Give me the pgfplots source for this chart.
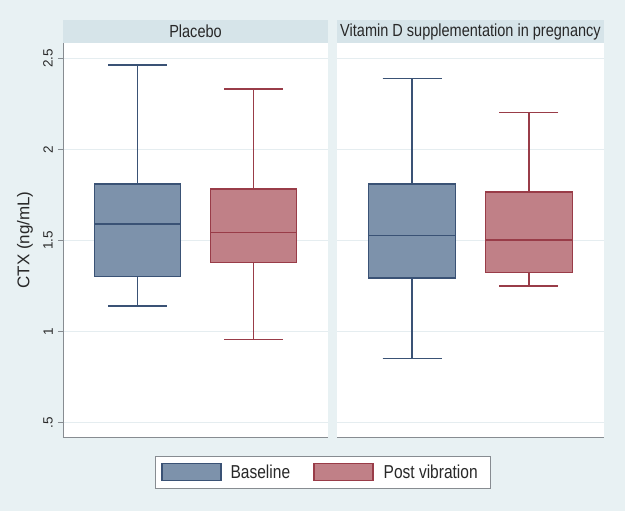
\documentclass[border=0pt]{standalone}
\usepackage{fontspec}
\setmainfont{Liberation Sans}
\newfontfamily\narrowfont[FakeStretch=0.83]{Liberation Sans}
\usepackage{pgfplots}
\pgfplotsset{compat=1.18}
\usepgfplotslibrary{statistics}
\definecolor{bgcol}{RGB}{232,241,243}
\definecolor{headcol}{RGB}{214,228,233}
\definecolor{gridcol}{RGB}{229,237,240}
\definecolor{axisgray}{RGB}{135,140,145}
\definecolor{basefill}{RGB}{125,146,171}
\definecolor{baseedge}{RGB}{58,82,117}
\definecolor{postfill}{RGB}{192,128,135}
\definecolor{postedge}{RGB}{153,60,72}
\definecolor{txt}{RGB}{40,40,40}
\pgfplotsset{
  panel/.style={
    anchor=south west, scale only axis, height=394pt, clip=false,
    xmin=0.357, xmax=2.643, ymin=0.4203, ymax=2.585,
    axis x line*=bottom, axis y line*=left,
    axis line style={draw=axisgray, line width=0.9pt},
    xtick=\empty,
    ytick={0.5,1,1.5,2,2.5},
    ymajorgrids, grid style={gridcol, line width=0.9pt},
    axis background/.style={fill=white},
    tick align=outside, major tick length=5pt,
    ytick style={draw=axisgray, line width=0.9pt},
    boxplot/draw direction=y,
    boxplot/box extend=0.745,
    boxplot/whisker extend=0.504,
  },
  basebox/.style={draw=baseedge, fill=basefill, line width=1.5pt, solid, forget plot},
  postbox/.style={draw=postedge, fill=postfill, line width=1.5pt, solid, forget plot},
}
\begin{document}
\begin{tikzpicture}
\fill[bgcol] (0,0) rectangle (625pt,-511pt);
% Panel 1: Placebo
\begin{axis}[panel, at={(63pt,-437pt)}, width=265pt,
  yticklabels={.5,1,1.5,2,2.5},
  yticklabel style={rotate=90, anchor=south, font=\fontsize{13.5}{16}\selectfont, text=txt, inner sep=0pt},
  yticklabel shift=5pt,
  ylabel={CTX (ng/mL)},
  ylabel style={at={(axis description cs:-0.1434,0.5)}, anchor=center, font=\fontsize{17}{20}\selectfont, text=txt},
  legend columns=2,
  legend image code/.code={\draw[#1] (0pt,-8.3pt) rectangle (59pt,8.3pt);},
  legend style={at={(axis description cs:0.9808,-0.0888)}, anchor=center,
    draw=axisgray, fill=white, line width=0.9pt,
    font=\narrowfont\fontsize{18.7}{21}\selectfont, text=txt,
    inner xsep=6pt, inner ysep=6.5pt,
    nodes={inner xsep=5pt, inner ysep=2pt},
    /tikz/every even column/.append style={column sep=18pt}},
]
\fill[headcol] (axis description cs:0,1) rectangle (axis description cs:1,1.0584);
\node[font=\narrowfont\fontsize{17.5}{20}\selectfont, text=txt] at (axis description cs:0.5,1.0292) {Placebo};
\addplot[basebox, boxplot prepared={draw position=1,
  lower whisker=1.140, lower quartile=1.301, median=1.591,
  upper quartile=1.809, upper whisker=2.463}] coordinates {};
\addplot[postbox, boxplot prepared={draw position=2,
  lower whisker=0.957, lower quartile=1.380, median=1.543,
  upper quartile=1.783, upper whisker=2.331}] coordinates {};
\addlegendimage{draw=baseedge, fill=basefill, line width=1.5pt}
\addlegendentry{\hspace*{4pt}Baseline}
\addlegendimage{draw=postedge, fill=postfill, line width=1.5pt}
\addlegendentry{\hspace*{5pt}Post vibration\hspace*{2pt}}
\end{axis}
% Panel 2: Vitamin D
\begin{axis}[panel, at={(337pt,-437pt)}, width=267pt,
  yticklabels={}, y axis line style={draw=none}, ytick style={draw=none},
]
\fill[headcol] (axis description cs:0,1) rectangle (axis description cs:1,1.0584);
\node[font=\narrowfont\fontsize{17.5}{20}\selectfont, text=txt] at (axis description cs:0.5,1.0292) {Vitamin D supplementation in pregnancy};
\addplot[basebox, boxplot prepared={draw position=1,
  lower whisker=0.851, lower quartile=1.294, median=1.527,
  upper quartile=1.810, upper whisker=2.391}] coordinates {};
\addplot[postbox, boxplot prepared={draw position=2,
  lower whisker=1.250, lower quartile=1.323, median=1.503,
  upper quartile=1.766, upper whisker=2.202}] coordinates {};
\end{axis}
\end{tikzpicture}
\end{document}
